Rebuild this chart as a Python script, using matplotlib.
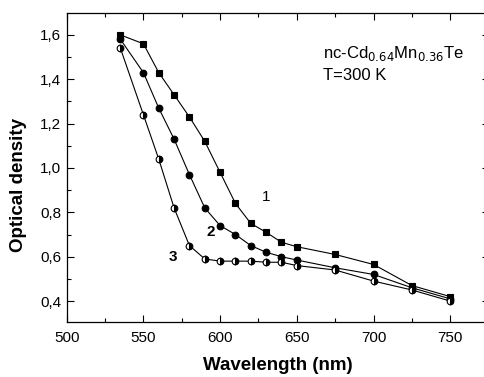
import matplotlib
matplotlib.use('Agg')
import matplotlib.pyplot as plt
from matplotlib.ticker import MultipleLocator, FuncFormatter

plt.rcParams['font.family'] = ['Liberation Sans', 'DejaVu Sans']

# Optical density spectra of nc-Cd0.64Mn0.36Te, T = 300 K
wavelength = [535, 550, 560, 570, 580, 590, 600, 610, 620, 630, 640, 650, 675, 700, 725, 750]
od_1 = [1.60, 1.56, 1.43, 1.33, 1.23, 1.12, 0.98, 0.84, 0.75, 0.71, 0.665, 0.645, 0.61, 0.565, 0.47, 0.42]
od_2 = [1.58, 1.43, 1.27, 1.13, 0.97, 0.82, 0.74, 0.70, 0.65, 0.62, 0.60, 0.585, 0.55, 0.52, 0.46, 0.41]
od_3 = [1.54, 1.24, 1.04, 0.82, 0.65, 0.59, 0.58, 0.58, 0.58, 0.575, 0.575, 0.56, 0.54, 0.49, 0.45, 0.40]

fig = plt.figure(figsize=(4.85, 3.77), dpi=100)
ax = fig.add_axes([0.1375, 0.1467, 0.870, 0.8178])

line_kw = dict(color='black', linewidth=0.8, markersize=4.8, markeredgewidth=0.8)
ax.plot(wavelength, od_1, marker='s', markerfacecolor='black', markeredgecolor='black', **line_kw)
ax.plot(wavelength, od_2, marker='o', markerfacecolor='black', markeredgecolor='black', **line_kw)
ax.plot(wavelength, od_3, marker='o', fillstyle='right', markerfacecolor='black',
        markerfacecoloralt='white', markeredgecolor='black', **line_kw)

ax.set_xlim(500, 775)
ax.set_ylim(0.307, 1.697)

ax.xaxis.set_major_locator(MultipleLocator(50))
ax.xaxis.set_minor_locator(MultipleLocator(25))
ax.yaxis.set_major_locator(MultipleLocator(0.2))
ax.yaxis.set_minor_locator(MultipleLocator(0.1))
ax.yaxis.set_major_formatter(FuncFormatter(lambda v, p: f'{v:.1f}'.replace('.', ',')))

ax.tick_params(which='both', direction='in', top=True, right=True, labelsize=11, width=0.8)
ax.tick_params(which='major', length=5)
ax.tick_params(which='minor', length=3)
ax.tick_params(axis='x', pad=7)
ax.tick_params(axis='y', pad=4)
for s in ax.spines.values():
    s.set_linewidth(0.9)

ax.set_xlabel('Wavelength (nm)', fontsize=13.5, fontweight='bold', labelpad=8)
ax.set_ylabel('Optical density', fontsize=13.5, fontweight='bold')
ax.yaxis.set_label_coords(-0.094, 0.443)

# curve numbers and sample info
ax.text(630, 0.87, '1', fontsize=11, ha='center', va='center')
ax.text(594, 0.71, '2', fontsize=11, fontweight='bold', ha='center', va='center')
ax.text(569.5, 0.60, '3', fontsize=11, fontweight='bold', ha='center', va='center')
ax.text(667, 1.514, r'nc-Cd$_{0.64}$Mn$_{0.36}$Te', fontsize=12, ha='left', va='center')
ax.text(667, 1.415, 'T=300 K', fontsize=12, ha='left', va='center')

fig.savefig('out.png', dpi=100)
